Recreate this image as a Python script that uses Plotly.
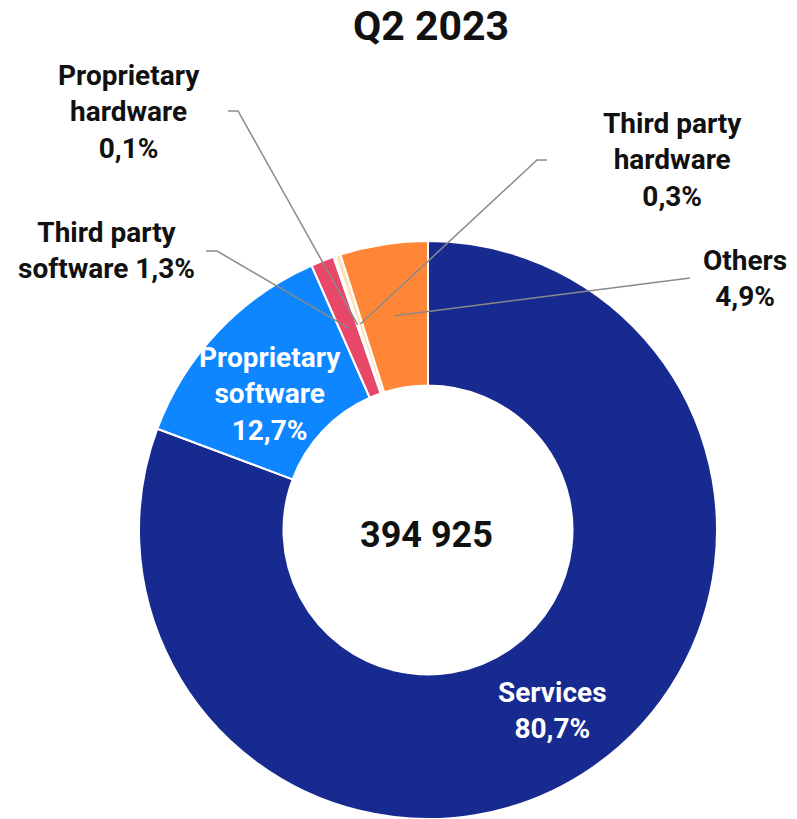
import math
import plotly.graph_objects as go

# data
categories = ['Services', 'Proprietary software', 'Third party software',
              'Proprietary hardware', 'Third party hardware', 'Others']
shares = [80.7, 12.7, 1.3, 0.1, 0.3, 4.9]
colors = ['#172a8f', '#0d86ff', '#e8476a', '#ffc93c', '#ffe0b3', '#ff8636']
total_label = '394 925'
period = 'Q2 2023'

# page body has an 8px margin, so the figure is a bit smaller than the window
OX, OY = 8, 8
W, H = 797 - OX, 819 - OY
CX, CY, R = 428, 530, 289     # donut centre / radius in window pixels
HOLE = 0.5


def px(x):
    return (x - OX) / W


def py(y):
    return 1 - (y - OY) / H


def fmt(v):
    return f'{v:.1f}'.replace('.', ',') + '%'


fig = go.Figure(go.Pie(
    labels=categories,
    values=shares,
    hole=HOLE,
    sort=False,
    direction='clockwise',
    rotation=0,
    marker=dict(colors=colors, line=dict(color='white', width=2)),
    textinfo='none',
    hoverinfo='label+percent',
    showlegend=False,
    domain=dict(x=[px(CX - R), px(CX + R)],
                y=[max(0, py(CY + R)), min(1, py(CY - R))]),
))

# anchor of each slice: mid angle, middle of the ring
anchors = []
cum = 0
tot = sum(shares)
for v in shares:
    mid = (cum + v / 2) / tot * 2 * math.pi
    rr = R * (1 + HOLE) / 2
    anchors.append((CX + rr * math.sin(mid), CY - rr * math.cos(mid)))
    cum += v

font = dict(family='Roboto', size=28, color='#111111', weight=700)
wfont = dict(family='Roboto', size=28, color='white', weight=700)


def label(x, y, txt, f):
    fig.add_annotation(x=px(x), y=py(y), xref='paper', yref='paper', text=txt,
                       xanchor='center', yanchor='middle',
                       showarrow=False, font=f, align='center')


# labels inside the ring
label(552, 710, 'Services<br>' + fmt(shares[0]), wfont)
label(270, 394, 'Proprietary<br>software<br>' + fmt(shares[1]), wfont)

# outside labels with leader lines: (index, text, label x, label y, line start, knee)
outside = [
    (2, 'Third party<br>software ' + fmt(shares[2]), 106, 251, (206, 251), (217, 251)),
    (3, 'Proprietary<br>hardware<br>' + fmt(shares[3]), 129, 112, (228, 111), (238, 111)),
    (4, 'Third party<br>hardware<br>' + fmt(shares[4]), 672, 160, (547, 160), (537, 160)),
    (5, 'Others<br>' + fmt(shares[5]), 745, 278, (690, 278), (690, 278)),
]
for i, txt, x, y, p0, p1 in outside:
    label(x, y, txt, font)
    ax, ay = anchors[i]
    path = (f'M {px(p0[0])},{py(p0[1])} L {px(p1[0])},{py(p1[1])} '
            f'L {px(ax)},{py(ay)}')
    fig.add_shape(type='path', path=path, xref='paper', yref='paper',
                  line=dict(color='#8a8a8a', width=1.5))

# centre total
label(426, 535, total_label, dict(family='Roboto', size=36, color='#111111', weight=700))

fig.update_layout(
    width=W, height=H,
    margin=dict(l=0, r=0, t=0, b=0),
    paper_bgcolor='white', plot_bgcolor='white',
    title=dict(text=period, x=px(431), y=py(26), xanchor='center', yanchor='middle',
               font=dict(family='Roboto', size=41, color='#111111', weight=700)),
)

fig.write_html('out.html')
